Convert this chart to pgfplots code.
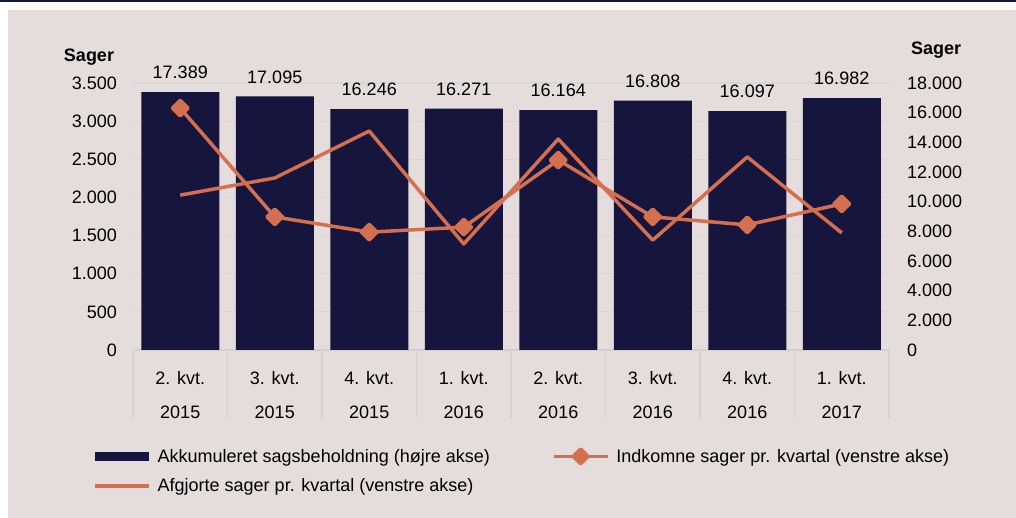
\documentclass[border=0pt]{standalone}
\usepackage{fontspec}
\setmainfont{Liberation Sans}
\usepackage{pgfplots}
\pgfplotsset{compat=1.18}
\definecolor{navy}{HTML}{16153D}
\definecolor{rust}{HTML}{D46F50}
\definecolor{panel}{HTML}{E4DDDC}
\definecolor{gridc}{HTML}{D8D6D7}
\definecolor{sepc}{HTML}{D2D1D2}

\pgfplotsset{
  /pgf/number format/1000 sep={.},
  /pgf/number format/assume math mode=true,
  base/.style={
    at={(133pt,168pt)}, anchor=south west,
    scale only axis, width=756pt, height=267pt,
    xmin=-0.5, xmax=7.5, ymin=0,
    clip=false,
    scaled y ticks=false,
    tick style={draw=none},
    ticklabel style={font=\fontsize{18}{22}\selectfont, inner sep=0pt},
  },
}

\begin{document}
\begin{tikzpicture}[x=1pt,y=1pt]
% page 1016 x 518
\fill[white] (0,0) rectangle (1016,518);
\fill[panel] (8,0) rectangle (1016,508);
\fill[navy] (0,516) rectangle (1016,518);

% bars, right axis
\begin{axis}[base,
  ymax=18000,
  axis x line*=bottom, axis y line*=right,
  x axis line style={draw=sepc, line width=1.2pt},
  y axis line style={draw=none},
  ytick={0,2000,...,18000},
  yticklabel style={anchor=west, xshift=18pt},
  xtick=data,
  xticklabels={{2. kvt.\\2015},{3. kvt.\\2015},{4. kvt.\\2015},{1. kvt.\\2016},
               {2. kvt.\\2016},{3. kvt.\\2016},{4. kvt.\\2016},{1. kvt.\\2017}},
  xticklabel style={align=center, anchor=north, yshift=-17pt,
                    font=\fontsize{18}{34}\selectfont},
  extra x ticks={-0.5,0.5,...,7.5}, extra x tick labels={},
  extra x tick style={tick style={draw=sepc, line width=1.2pt},
                      major tick length=68pt, tick align=outside},
  extra y ticks={2571.43,5142.86,7714.29,10285.71,12857.14,15428.57,18000},
  extra y tick labels={},
  extra y tick style={grid=major, major grid style={draw=gridc, line width=1.2pt}},
  ybar, bar width=78pt,
  nodes near coords,
  every node near coord/.append style={font=\fontsize{18}{22}\selectfont,
                                       inner sep=0pt, yshift=13pt, black},
]
\addplot[fill=navy, draw=none] coordinates {
  (0,17389) (1,17095) (2,16246) (3,16271) (4,16164) (5,16808) (6,16097) (7,16982)
};
\end{axis}

% lines, left axis
\begin{axis}[base,
  ymax=3500,
  axis x line=none, axis y line*=left,
  y axis line style={draw=none},
  ytick={0,500,...,3500},
  yticklabel style={anchor=east, xshift=-16pt},
  legend columns=2,
  legend cell align=left,
  legend style={draw=none, fill=none, inner sep=0pt,
    at={(-0.0529,-0.363)}, anchor=north west,
    font=\fontsize{18}{22}\selectfont,
    row sep=11pt,
    /tikz/every odd column/.style={column sep=5pt},
    /tikz/column 2/.style={column sep=60pt}},
]
\addlegendimage{legend image code/.code={\fill[navy] (0pt,-4pt) rectangle (53pt,4pt);}}
\addlegendentry{Akkumuleret sagsbeholdning (højre akse)}
\addplot[rust, line width=3.5pt, line join=round,
  mark=square*, mark size=5.5pt, mark options={rotate=45, fill=rust},
  legend image code/.code={
    \draw[rust, line width=3.5pt] (0pt,0pt) -- (54pt,0pt);
    \fill[rust, rounded corners=1pt] (27pt,0pt) +(-7.5pt,0pt) -- +(0pt,7.5pt) -- +(7.5pt,0pt) -- +(0pt,-7.5pt) -- cycle;}]
coordinates {
  (0,3170) (1,1745) (2,1545) (3,1610) (4,2490) (5,1745) (6,1640) (7,1915)
};
\addlegendentry{Indkomne sager pr. kvartal (venstre akse)}
\addplot[rust, line width=3.5pt, line join=round,
  legend image code/.code={\draw[rust, line width=3.5pt] (0pt,0pt) -- (54pt,0pt);}]
coordinates {
  (0,2030) (1,2255) (2,2870) (3,1390) (4,2765) (5,1440) (6,2530) (7,1535)
};
\addlegendentry{Afgjorte sager pr. kvartal (venstre akse)}
\end{axis}

\node[font=\bfseries\fontsize{18}{22}\selectfont] at (89,461) {Sager};
\node[font=\bfseries\fontsize{18}{22}\selectfont] at (936,468) {Sager};
\end{tikzpicture}
\end{document}
